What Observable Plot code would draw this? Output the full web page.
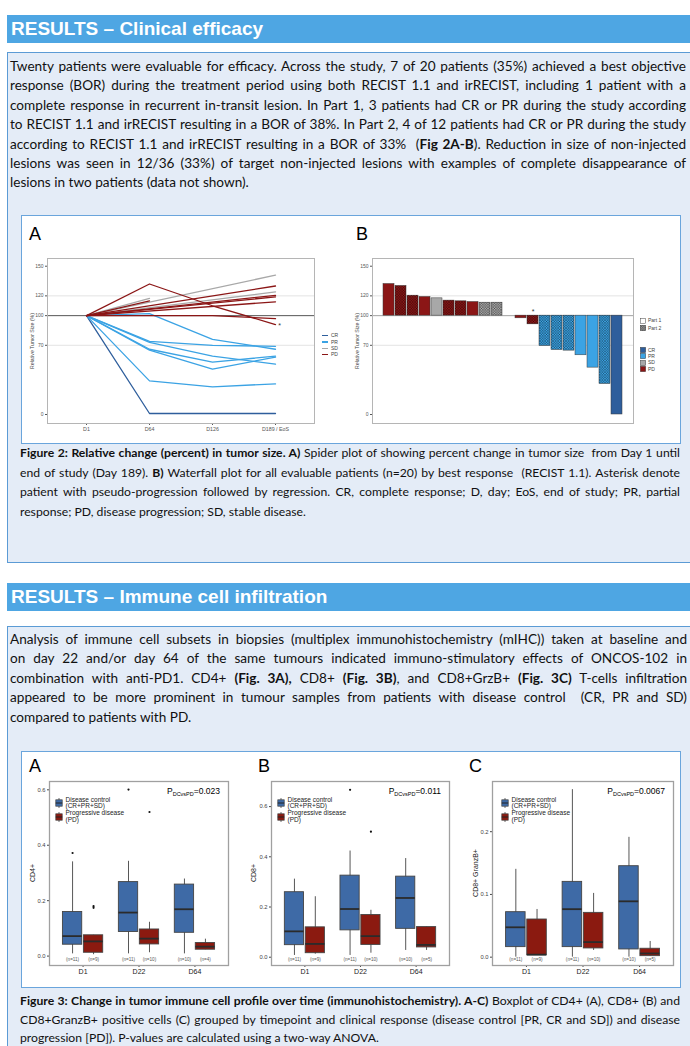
<!DOCTYPE html>
<html><head><meta charset="utf-8">
<script src="https://cdn.jsdelivr.net/npm/d3@7"></script>
<script src="https://cdn.jsdelivr.net/npm/@observablehq/plot@0.6"></script>
<style>
html,body{margin:0;padding:0;background:#fff;}
#page{position:relative;width:690px;height:1046px;overflow:hidden;font-family:Lato,"Open Sans",sans-serif;}
.hdr{position:absolute;left:7px;width:700px;height:28px;background:#4EA6E3;color:#fff;font:bold 19px "Liberation Sans",Arial,sans-serif;line-height:28px;padding-left:4px;box-sizing:border-box;}
.box{position:absolute;left:7px;width:700px;background:#E4ECF7;border:1.5px solid #5B9BD5;box-sizing:border-box;}
.fig{position:absolute;left:21px;width:660px;background:#fff;border:1.5px solid #6AA5DC;box-sizing:border-box;}
.ln{position:absolute;white-space:pre;color:#111;}
.ln b{font-weight:700;}
.abs{position:absolute;}
.letter{position:absolute;font:18px "Liberation Sans",Arial,sans-serif;color:#000;line-height:18px;}
.lg{position:absolute;font:5px "Liberation Sans",Arial,sans-serif;color:#444;line-height:5px;white-space:nowrap;}
.blg{position:absolute;font:6.5px "Liberation Sans",Arial,sans-serif;color:#222;line-height:6.6px;white-space:nowrap;}
.pv{position:absolute;font:8.5px "Liberation Sans",Arial,sans-serif;color:#000;white-space:nowrap;text-align:right;}
.pv sub{font-size:5.5px;vertical-align:-1.5px;}
.ylab{position:absolute;font-family:"Liberation Sans",Arial,sans-serif;white-space:nowrap;transform:translate(-50%,-50%) rotate(-90deg);line-height:1;}
svg.plot{position:absolute;overflow:visible;}
</style></head>
<body>
<svg width="0" height="0" style="position:absolute">
  <defs>
    <pattern id="hatch" patternUnits="userSpaceOnUse" width="2.6" height="2.6">
      <path d="M0,2.6 L2.6,0 M-0.65,0.65 L0.65,-0.65 M1.95,3.25 L3.25,1.95" stroke="#000" stroke-opacity="0.55" stroke-width="0.55"/>
      <path d="M0,0 L2.6,2.6 M-0.65,1.95 L0.65,3.25 M1.95,-0.65 L3.25,0.65" stroke="#000" stroke-opacity="0.55" stroke-width="0.55"/>
    </pattern>
  </defs>
</svg>
<div id="page"></div>
<script>
// ================= DATA =================
// Figure 2A – spider plot (relative tumour size, %), one entry per patient
const spiderVisits = ["D1", "D64", "D126", "D189 / EoS"];
const spiderResponse = ["CR","PR","PR","PR","PR","PR","PR","SD","SD","SD","PD","PD","PD","PD","PD","PD","PD"];
const spiderD1   = [100,100,100,100,100,100,100,100,100,100,100,100,100,100,100,100,100];
const spiderD64  = [1, 102, 74, 73, 66, 65, 34, null, null, 117.5, 132, null, null, null, null, 100, 115];
const spiderD126 = [1, 76, 70, 59, 53, 46, 28, null, null, null, 110, null, null, null, null, 100, null];
const spiderD189 = [1, 66, 69, 51, 59, 58, 31, 141, 124, null, 91, 130, 120.5, 119, 114, 97, null];
const spiderAsterisk = [10]; // patient index with pseudo-progression

// Figure 2B – waterfall plot (best response)
const wfValue    = [132, 130, 120.2, 118.9, 117.5, 115.2, 114.5, 113.8, 113.1, 113.1, 100, 97.3, 91.2, 69.3, 65.3, 64.6, 59.9, 47.4, 30.9, 0];
const wfResponse = ["PD","PD","PD","PD","SD","PD","PD","PD","SD","SD","SD","PD","PD","PR","PR","PR","PR","PR","PR","CR"];
const wfPart     = [1, 2, 2, 1, 1, 2, 2, 1, 2, 2, 1, 1, 2, 2, 2, 2, 1, 1, 2, 1];
const wfAsterisk = [13]; // bar number

const yTicks2 = [0, 70, 100, 120, 150];
const yLabel2 = "Relative Tumor Size (%)";
const responses = ["CR", "PR", "SD", "PD"];
const respColors = ["#2E5E9C", "#3BA3E4", "#A8A8A8", "#8B1616"];

// Figure 3 – box plots (order: D1 DC, D1 PD, D22 DC, D22 PD, D64 DC, D64 PD)
const timepoints = ["D1", "D22", "D64"];
const boxTime  = ["D1", "D1", "D22", "D22", "D64", "D64"];
const boxGroup = ["DC", "PD", "DC", "PD", "DC", "PD"];

const cd4Lo  = [0.008, 0.005, 0.008, 0.012, 0.008, 0.023];
const cd4Q1  = [0.041, 0.012, 0.087, 0.042, 0.084, 0.023];
const cd4Med = [0.072, 0.053, 0.157, 0.063, 0.169, 0.034];
const cd4Q3  = [0.159, 0.075, 0.267, 0.096, 0.258, 0.047];
const cd4Hi  = [0.340, 0.075, 0.342, 0.122, 0.278, 0.061];
const cd4N   = [11, 9, 11, 10, 10, 4];
const cd4OutBox   = [0, 1, 1, 2, 3];
const cd4OutValue = [0.372, 0.180, 0.174, 0.601, 0.520];

const cd8Lo  = [0.007, 0.012, 0.007, 0.016, 0.027, 0.027];
const cd8Q1  = [0.048, 0.016, 0.107, 0.049, 0.113, 0.039];
const cd8Med = [0.103, 0.053, 0.192, 0.084, 0.236, 0.049];
const cd8Q3  = [0.259, 0.119, 0.325, 0.168, 0.321, 0.120];
const cd8Hi  = [0.311, 0.241, 0.423, 0.187, 0.393, 0.120];
const cd8N   = [11, 9, 11, 10, 10, 5];
const cd8OutBox   = [2, 3];
const cd8OutValue = [0.667, 0.500];

const gzbLo  = [0.000, 0.003, 0.000, 0.0107, 0.000, 0.0016];
const gzbQ1  = [0.016, 0.003, 0.016, 0.0139, 0.0123, 0.0016];
const gzbMed = [0.0476, 0.004, 0.0765, 0.024, 0.089, 0.0059];
const gzbQ3  = [0.0717, 0.060, 0.120, 0.0706, 0.145, 0.0134];
const gzbHi  = [0.140, 0.076, 0.267, 0.1016, 0.191, 0.025];
const gzbN   = [11, 9, 11, 10, 10, 5];
const gzbOutBox   = [];
const gzbOutValue = [];

const groupColors = {DC: "#3E6AA6", PD: "#8B1A10"};

// Texts
const header1 = "RESULTS – Clinical efficacy";
const header2 = "RESULTS – Immune cell infiltration";
const para1 = [
 "Twenty patients were evaluable for efficacy. Across the study, 7 of 20 patients (35%) achieved a best objective",
 "response (BOR) during the treatment period using both RECIST 1.1 and irRECIST, including 1 patient with a",
 "complete response in recurrent in-transit lesion. In Part 1, 3 patients had CR or PR during the study according",
 "to RECIST 1.1 and irRECIST resulting in a BOR of 38%. In Part 2, 4 of 12 patients had CR or PR during the study",
 "according to RECIST 1.1 and irRECIST resulting in a BOR of 33%  (<b>Fig 2A-B</b>). Reduction in size of non-injected",
 "lesions was seen in 12/36 (33%) of target non-injected lesions with examples of complete disappearance of",
 "lesions in two patients (data not shown)."
];
const caption2 = [
 "<b>Figure 2: Relative change (percent) in tumor size. A)</b> Spider plot of showing percent change in tumor size  from Day 1 until",
 "end of study (Day 189). <b>B)</b> Waterfall plot for all evaluable patients (n=20) by best response  (RECIST 1.1). Asterisk denote",
 "patient with pseudo-progression followed by regression. CR, complete response; D, day; EoS, end of study; PR, partial",
 "response; PD, disease progression; SD, stable disease."
];
const para2 = [
 "Analysis of immune cell subsets in biopsies (multiplex immunohistochemistry (mIHC)) taken at baseline and",
 "on day 22 and/or day 64 of the same tumours indicated immuno-stimulatory effects of ONCOS-102 in",
 "combination with anti-PD1. CD4+ <b>(Fig. 3A),</b> CD8+ <b>(Fig. 3B)</b>, and CD8+GrzB+ <b>(Fig. 3C)</b> T-cells infiltration",
 "appeared to be more prominent in tumour samples from patients with disease control  (CR, PR and SD)",
 "compared to patients with PD."
];
const caption3 = [
 "<b>Figure 3: Change in tumor immune cell profile over time (immunohistochemistry). A-C)</b> Boxplot of CD4+ (A), CD8+ (B) and",
 "CD8+GranzB+ positive cells (C) grouped by timepoint and clinical response (disease control [PR, CR and SD]) and disease",
 "progression [PD]). P-values are calculated using a two-way ANOVA."
];
const legendBox = ["Disease control", "(CR+PR+SD)", "Progressive disease", "(PD)"];
const pValues = ["0.023", "0.011", "0.0067"];

// ================= LAYOUT =================
const page = document.getElementById("page");
function add(cls, css, html) {
  const d = document.createElement("div");
  if (cls) d.className = cls;
  Object.assign(d.style, css);
  if (html != null) d.innerHTML = html;
  page.appendChild(d);
  return d;
}
function px(v) { return v + "px"; }

add("hdr", {top: px(15)}, header1);
add("box", {top: px(52), height: px(511)});
add("fig", {top: px(215), height: px(229)});
add("hdr", {top: px(583)}, header2);
add("box", {top: px(626), height: px(500)});
add("fig", {top: px(751), height: px(237)});

function lines(arr, {left, width, top, lh, size}) {
  arr.forEach((html, i) => {
    const d = add("ln", {left: px(left), top: px(top + i * lh), fontSize: px(size), lineHeight: px(lh)}, html);
    if (i < arr.length - 1) {
      const w = d.getBoundingClientRect().width;
      const n = (d.textContent.match(/ /g) || []).length;
      if (n) d.style.wordSpacing = px((width - w) / n);
    }
  });
}
lines(para1,    {left: 10, width: 676, top: 57,  lh: 19.4, size: 13.6});
lines(caption2, {left: 20, width: 660, top: 443, lh: 19.5, size: 12.2});
lines(para2,    {left: 10, width: 677, top: 630, lh: 19.4, size: 13.6});
lines(caption3, {left: 20, width: 660, top: 992, lh: 18.7, size: 12.2});

add("letter", {left: px(29), top: px(225)}, "A");
add("letter", {left: px(356), top: px(225)}, "B");
add("letter", {left: px(29), top: px(757)}, "A");
add("letter", {left: px(258), top: px(757)}, "B");
add("letter", {left: px(469), top: px(757)}, "C");

function place(svg, left, top) {
  svg.classList.add("plot");
  svg.style.left = px(left); svg.style.top = px(top);
  page.appendChild(svg);
}
function ylab(text, x, y, size, color) {
  add("ylab", {left: px(x), top: px(y), fontSize: px(size), color}, text);
}
const colorOf = r => respColors[responses.indexOf(r)];
const baseStyle = {fontFamily: "Liberation Sans, Arial, sans-serif", fontSize: "5px", color: "#555", background: "transparent"};

// ----- Spider plot -----
const spiderRows = [];
spiderResponse.forEach((r, i) => {
  [spiderD1, spiderD64, spiderD126, spiderD189].forEach((arr, k) => {
    if (arr[i] != null) spiderRows.push({id: i, resp: r, visit: spiderVisits[k], value: arr[i]});
  });
});
const spiderEnds = spiderAsterisk.map(i => ({visit: spiderVisits[3], value: spiderD189[i]}));

const spider = Plot.plot({
  width: 330, height: 185, marginLeft: 26, marginRight: 37, marginTop: 8, marginBottom: 12,
  style: baseStyle,
  x: {type: "point", domain: spiderVisits, padding: 0.61},
  y: {domain: [-9.1, 157.8]},
  marks: [
    Plot.axisX({tickSize: 2, tickPadding: 2, fontSize: 5.3, label: null}),
    Plot.axisY({ticks: yTicks2, tickSize: 2, tickPadding: 2, fontSize: 5, label: null}),
    Plot.ruleY([70, 120], {stroke: "#dcdcdc", strokeWidth: 0.8}),
    Plot.ruleY([100], {stroke: "#555", strokeWidth: 1}),
    Plot.line(spiderRows, {x: "visit", y: "value", z: "id", stroke: d => colorOf(d.resp), strokeWidth: 1.3}),
    Plot.text(spiderEnds, {x: "visit", y: "value", text: () => "*", dx: 4, dy: 1, fontSize: 7, fill: "#333"}),
    Plot.frame({stroke: "#b5b5b5", strokeWidth: 1})
  ]
});
place(spider, 21, 250);
ylab(yLabel2, 33, 340.5, 5.2, "#444");

// spider legend
responses.forEach((r, i) => {
  const y = [335.7, 342, 348.3, 354.7][i];
  add("abs", {left: px(322), top: px(y - 0.75), width: px(6), height: px(1.5), background: respColors[i]});
  add("lg", {left: px(331), top: px(y - 2.5)}, r);
});

// ----- Waterfall -----
const wfRows = wfValue.map((v, i) => ({bar: i + 1, value: v, resp: wfResponse[i], part: wfPart[i]}));
const waterfall = Plot.plot({
  width: 300, height: 185, marginLeft: 27, marginRight: 12, marginTop: 8, marginBottom: 12,
  style: baseStyle,
  x: {type: "band", domain: wfRows.map(d => d.bar), paddingInner: 0.1, paddingOuter: 0.12, axis: null},
  y: {domain: [-9.1, 157.8]},
  marks: [
    Plot.axisY({ticks: yTicks2, tickSize: 2, tickPadding: 2, fontSize: 5, label: null}),
    Plot.ruleY([70, 120], {stroke: "#dcdcdc", strokeWidth: 0.8}),
    Plot.ruleY([100], {stroke: "#8a8a8a", strokeWidth: 0.8}),
    Plot.barY(wfRows, {x: "bar", y1: 100, y2: "value", fill: d => colorOf(d.resp), stroke: "#3a3a3a", strokeWidth: 0.5}),
    Plot.barY(wfRows.filter(d => d.part === 2), {x: "bar", y1: 100, y2: "value", fill: "url(#hatch)"}),
    Plot.text(wfRows.filter(d => wfAsterisk.includes(d.bar)), {x: "bar", y: 100, text: () => "*", dy: -4, fontSize: 7, fill: "#333"}),
    Plot.frame({stroke: "#b5b5b5", strokeWidth: 1})
  ]
});
place(waterfall, 345, 250);
ylab(yLabel2, 358, 340.5, 5.2, "#444");

// waterfall legends
function swatch(left, top, fill, hatch) {
  const s = document.createElementNS("http://www.w3.org/2000/svg", "svg");
  s.setAttribute("width", 6); s.setAttribute("height", 6);
  s.style.position = "absolute"; s.style.left = px(left); s.style.top = px(top);
  s.innerHTML = `<rect x="0.3" y="0.3" width="5.4" height="5.4" fill="${fill}" stroke="#444" stroke-width="0.5"/>` +
    (hatch ? `<rect x="0.3" y="0.3" width="5.4" height="5.4" fill="url(#hatch)"/>` : "");
  page.appendChild(s);
}
swatch(640, 317.5, "#fff", false); add("lg", {left: px(648), top: px(318)}, "Part 1");
swatch(640, 325, "#9a9a9a", true); add("lg", {left: px(648), top: px(325.5)}, "Part 2");
responses.forEach((r, i) => {
  const y = [347, 353.3, 359.7, 366][i];
  swatch(640, y, respColors[i], false);
  add("lg", {left: px(648), top: px(y + 0.5)}, r);
});

// ----- Box plots -----
function boxplot({lo, q1, med, q3, hi, n, outBox, outValue, domain, ticks, label, left, width, mLeft, mRight, pIndex, legendLeft}) {
  const rows = boxTime.map((t, i) => {
    const c = timepoints.indexOf(t) + (boxGroup[i] === "DC" ? -0.1875 : 0.1875);
    return {c, x1: c - 0.1725, x2: c + 0.1725, group: boxGroup[i], lo: lo[i], q1: q1[i], med: med[i], q3: q3[i], hi: hi[i], n: n[i]};
  });
  const outs = outBox.map((b, k) => ({c: rows[b].c, value: outValue[k]}));
  const chart = Plot.plot({
    width, height: 205, marginLeft: mLeft, marginRight: mRight, marginTop: 6, marginBottom: 15,
    style: {...baseStyle, color: "#444"},
    x: {domain: [-0.6, 2.6]},
    y: {domain},
    marks: [
      Plot.axisX({ticks: [0, 1, 2], tickFormat: i => timepoints[i], tickSize: 2, tickPadding: 2, fontSize: 7, label: null, fill: "#222"}),
      Plot.axisY({ticks, tickFormat: ".1f", tickSize: 2, tickPadding: 2, fontSize: 5.8, label: null}),
      Plot.ruleX(rows, {x: "c", y1: "lo", y2: "hi", stroke: "#444", strokeWidth: 0.9}),
      Plot.rect(rows, {x1: "x1", x2: "x2", y1: "q1", y2: "q3", fill: d => groupColors[d.group], stroke: "#444", strokeWidth: 0.9}),
      Plot.ruleY(rows, {x1: "x1", x2: "x2", y: "med", stroke: "#2b2b2b", strokeWidth: 1.8}),
      Plot.dot(outs, {x: "c", y: "value", r: 1.1, fill: "#111", stroke: null}),
      Plot.text(rows, {x: "c", y: domain[0], text: d => `(n=${d.n})`, dy: -5.5, fontSize: 4.6, fill: "#555"}),
      Plot.frame({stroke: "#a0a0a0", strokeWidth: 1.3})
    ]
  });
  place(chart, left, 775);
  ylab(label, left + 9.5, 873, 7, "#222");
  // legend
  const L = legendLeft;
  [["DC", 797.5], ["PD", 811.5]].forEach(([g, y]) => {
    const s = document.createElementNS("http://www.w3.org/2000/svg", "svg");
    s.setAttribute("width", 8); s.setAttribute("height", 10);
    s.style.position = "absolute"; s.style.left = px(L); s.style.top = px(y);
    s.innerHTML = `<line x1="4" x2="4" y1="0" y2="10" stroke="#444" stroke-width="0.8"/><rect x="0.8" y="1.8" width="6.4" height="6.4" fill="${groupColors[g]}" stroke="#444" stroke-width="0.7"/><line x1="0.8" x2="7.2" y1="5" y2="5" stroke="#222" stroke-width="1"/>`;
    page.appendChild(s);
  });
  legendBox.forEach((t, i) => add("blg", {left: px(L + 10.5), top: px([796.5, 803, 810, 816.5][i])}, t));
  const frameRight = left + width - mRight;
  add("pv", {right: px(690 - frameRight + 8), top: px(786)}, `P<sub>DCvsPD</sub>=${pValues[pIndex]}`);
}
boxplot({lo: cd4Lo, q1: cd4Q1, med: cd4Med, q3: cd4Q3, hi: cd4Hi, n: cd4N, outBox: cd4OutBox, outValue: cd4OutValue,
  domain: [-0.034, 0.63], ticks: [0, 0.2, 0.4, 0.6], label: "CD4+", left: 22, width: 215, mLeft: 27, mRight: 9, pIndex: 0, legendLeft: 55});
boxplot({lo: cd8Lo, q1: cd8Q1, med: cd8Med, q3: cd8Q3, hi: cd8Hi, n: cd8N, outBox: cd8OutBox, outValue: cd8OutValue,
  domain: [-0.033, 0.70], ticks: [0, 0.2, 0.4, 0.6], label: "CD8+", left: 243, width: 215, mLeft: 28, mRight: 9, pIndex: 1, legendLeft: 277});
boxplot({lo: gzbLo, q1: gzbQ1, med: gzbMed, q3: gzbQ3, hi: gzbHi, n: gzbN, outBox: gzbOutBox, outValue: gzbOutValue,
  domain: [-0.0133, 0.280], ticks: [0, 0.1, 0.2], label: "CD8+ GranzB+", left: 465, width: 216, mLeft: 27, mRight: 8, pIndex: 2, legendLeft: 501});
</script>
</body></html>
